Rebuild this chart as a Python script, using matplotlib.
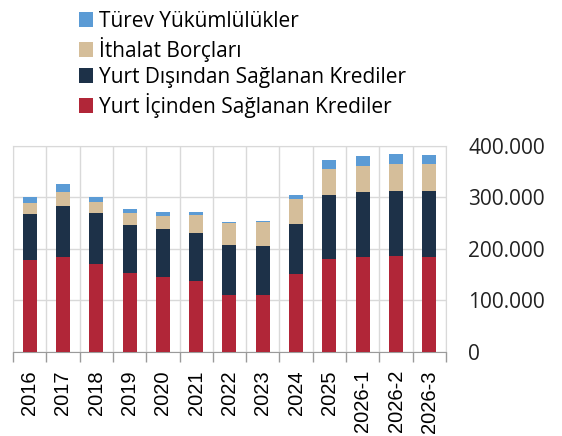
import matplotlib.pyplot as plt
from matplotlib.ticker import FuncFormatter, FixedLocator
import numpy as np

years = ['2016', '2017', '2018', '2019', '2020', '2021', '2022', '2023',
         '2024', '2025', '2026-1', '2026-2', '2026-3']

# milyon USD
yurt_ici = [178000, 185000, 170500, 152500, 145000, 137000, 110500, 110000,
            150500, 180000, 184000, 185500, 184000]
yurt_disi = [89000, 98000, 98500, 94500, 94000, 94000, 97500, 95000,
             97500, 124000, 126000, 126500, 128000]
ithalat = [22000, 27000, 22000, 23000, 25000, 34500, 42000, 48000,
           48500, 51000, 51000, 53000, 53000]
turev = [12000, 15000, 9000, 8000, 8000, 6500, 2000, 1500,
         7500, 16500, 19000, 18500, 17000]

labels = ['Yurt İçinden Sağlanan Krediler', 'Yurt Dışından Sağlanan Krediler',
          'İthalat Borçları', 'Türev Yükümlülükler']
colors = ['#b12638', '#1d3148', '#d5be9a', '#5b9bd5']

fig = plt.figure(figsize=(5.62, 4.36), dpi=100)
ax = fig.add_axes([0.0231, 0.1927, 0.7705, 0.4731])

x = np.arange(len(years))
bottom = np.zeros(len(years))
handles = []
for vals, lab, col in zip([yurt_ici, yurt_disi, ithalat, turev], labels, colors):
    b = ax.bar(x, vals, width=0.42, bottom=bottom, color=col, label=lab, zorder=3)
    handles.append(b)
    bottom += np.array(vals)

ax.set_xlim(-0.5, len(years) - 0.5)
ax.set_ylim(0, 400000)
ax.set_yticks([0, 100000, 200000, 300000, 400000])
ax.yaxis.set_major_formatter(FuncFormatter(lambda v, p: f'{int(v):,}'.replace(',', '.')))
ax.yaxis.tick_right()
ax.tick_params(axis='y', length=0, pad=16, labelsize=15, colors='#222222')
for t in ax.get_yticklabels():
    t.set_family('Open Sans')

ax.set_xticks(x)
ax.set_xticklabels(years, rotation=90, family='Liberation Sans', fontsize=14.5)
ax.xaxis.set_minor_locator(FixedLocator(np.arange(-0.5, len(years), 1)))
ax.tick_params(axis='x', which='major', length=0, pad=13)
ax.tick_params(axis='x', which='minor', length=7, color='#9a9a9a', width=1)

ax.grid(axis='y', color='#d9d9d9', linewidth=1, zorder=0)
ax.grid(axis='x', which='minor', color='#d9d9d9', linewidth=1, zorder=0)
for s in ['left', 'right', 'top']:
    ax.spines[s].set_color('#d9d9d9')
ax.spines['bottom'].set_color('#9a9a9a')

fig.legend(handles[::-1], labels[::-1], loc='upper left', bbox_to_anchor=(0.125, 0.995),
           frameon=False, prop={'family': 'Open Sans', 'size': 15},
           handlelength=0.7, handleheight=0.7, handletextpad=0.3, labelspacing=0.24,
           borderaxespad=0)

fig.savefig('out.png', dpi=100)
